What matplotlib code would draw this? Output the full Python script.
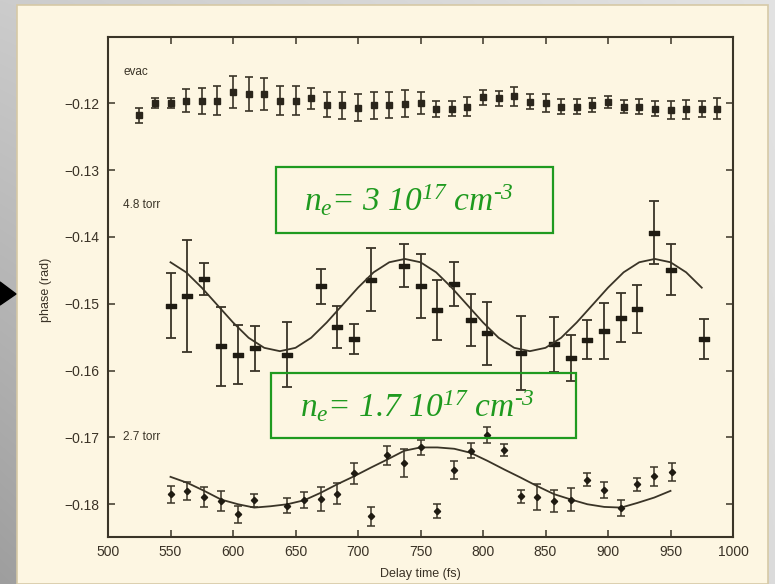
import numpy as np
import matplotlib
matplotlib.use("Agg")
import matplotlib.pyplot as plt
from matplotlib.patches import Rectangle, Polygon
from matplotlib.path import Path

plt.rcParams['mathtext.fontset'] = 'custom'
plt.rcParams['mathtext.it'] = 'Liberation Serif:italic'
plt.rcParams['mathtext.rm'] = 'Liberation Serif:italic'
plt.rcParams['mathtext.default'] = 'it'

# ---------------- data ----------------
evac_x = [525, 537.5, 550, 562.5, 575, 587.5, 600, 612.5, 625, 637.5, 650, 662.5, 675,
          687.5, 700, 712.5, 725, 737.5, 750, 762.5, 775, 787.5, 800, 812.5, 825, 837.5,
          850, 862.5, 875, 887.5, 900, 912.5, 925, 937.5, 950, 962.5, 975, 987.5]
evac_y = [-0.1218, -0.1200, -0.1200, -0.1196, -0.1197, -0.1196, -0.1183, -0.1186, -0.1186,
          -0.1196, -0.1196, -0.1193, -0.1202, -0.1203, -0.1207, -0.1203, -0.1203, -0.1201,
          -0.1200, -0.1208, -0.1208, -0.1205, -0.1191, -0.1193, -0.1190, -0.1198, -0.1200,
          -0.1205, -0.1205, -0.1203, -0.1198, -0.1205, -0.1205, -0.1208, -0.1210, -0.1209,
          -0.1208, -0.1208]
evac_err = [0.0011, 0.0007, 0.0007, 0.0017, 0.0019, 0.0022, 0.0024, 0.0025, 0.0024, 0.0021,
            0.0021, 0.0015, 0.0019, 0.0020, 0.0020, 0.0020, 0.0019, 0.0020, 0.0016, 0.0012,
            0.0011, 0.0014, 0.0011, 0.0011, 0.0014, 0.0011, 0.0013, 0.0011, 0.0011, 0.0010,
            0.0009, 0.0010, 0.0011, 0.0011, 0.0014, 0.0014, 0.0012, 0.0015]

torr48_x = [550, 563.5, 577, 590.5, 604, 617.5, 643.5, 670, 683.5, 697, 710.5, 737, 750,
            763.5, 777, 790, 803.5, 830, 857, 870, 883.5, 897, 910, 923.5, 937, 950.5, 977]
torr48_y = [-0.1503, -0.1488, -0.1463, -0.1564, -0.1576, -0.1567, -0.1576, -0.1474, -0.1535,
            -0.1553, -0.1464, -0.1443, -0.1474, -0.1509, -0.1470, -0.1524, -0.1544, -0.1574,
            -0.1561, -0.1581, -0.1554, -0.1541, -0.1521, -0.1508, -0.1394, -0.1449, -0.1553]
torr48_err = [0.0049, 0.0084, 0.0024, 0.0059, 0.0044, 0.0034, 0.0048, 0.0026, 0.0031, 0.0022,
              0.0047, 0.0032, 0.0048, 0.0045, 0.0033, 0.0039, 0.0047, 0.0055, 0.0041, 0.0034,
              0.0029, 0.0042, 0.0037, 0.0036, 0.0047, 0.0038, 0.0030]

fit48_x = [550, 562.5, 575, 587.5, 600, 612.5, 625, 637.5, 650, 662.5, 675, 687.5, 700, 712.5,
           725, 737.5, 750, 762.5, 775, 787.5, 800, 812.5, 825, 837.5, 850, 862.5, 875, 887.5,
           900, 912.5, 925, 937.5, 950, 962.5, 975]
fit48_y = [-0.1438, -0.1453, -0.1476, -0.1502, -0.1528, -0.1551, -0.1566, -0.1571, -0.1566,
           -0.1551, -0.1528, -0.1502, -0.1476, -0.1453, -0.1438, -0.1433, -0.1438, -0.1453,
           -0.1476, -0.1502, -0.1528, -0.1551, -0.1566, -0.1571, -0.1566, -0.1551, -0.1528,
           -0.1502, -0.1476, -0.1453, -0.1438, -0.1433, -0.1438, -0.1453, -0.1476]

torr27_x = [550, 563.5, 577, 590.5, 604, 617, 643.5, 657, 670, 683.5, 697, 710.5, 723.5, 737,
            750, 763.5, 777, 790, 803.5, 817, 830, 843.5, 857, 870.5, 883.5, 897, 910.5, 923.5,
            937, 951]
torr27_y = [-0.1785, -0.1780, -0.1789, -0.1795, -0.1815, -0.1794, -0.1802, -0.1793, -0.1792,
            -0.1784, -0.1754, -0.1818, -0.1727, -0.1738, -0.1715, -0.1810, -0.1749, -0.1720,
            -0.1696, -0.1719, -0.1788, -0.1789, -0.1795, -0.1793, -0.1763, -0.1779, -0.1805,
            -0.1770, -0.1758, -0.1752]
torr27_err = [0.0013, 0.0014, 0.0015, 0.0015, 0.0013, 0.0010, 0.0011, 0.0012, 0.0018, 0.0016,
              0.0016, 0.0014, 0.0014, 0.0021, 0.0011, 0.0011, 0.0013, 0.0011, 0.0012, 0.0009,
              0.0010, 0.0019, 0.0016, 0.0017, 0.0010, 0.0012, 0.0012, 0.0010, 0.0014, 0.0013]

fit27_x = [550, 563.5, 577, 590.5, 604, 617, 630, 643.5, 657, 670, 683.5, 697, 710.5, 723.5,
           737, 750, 763.5, 777, 790, 803.5, 817, 830, 843.5, 857, 870.5, 883.5, 897, 910.5,
           923.5, 937, 950]
fit27_y = [-0.1759, -0.1768, -0.1780, -0.1793, -0.1800, -0.1805, -0.1803, -0.1800, -0.1794,
           -0.1783, -0.1770, -0.1758, -0.1745, -0.1733, -0.1720, -0.1715, -0.1715, -0.1717,
           -0.1723, -0.1735, -0.1748, -0.1760, -0.1773, -0.1785, -0.1793, -0.1800, -0.1804,
           -0.1805, -0.1798, -0.1790, -0.1780]

x_ticks = [500, 550, 600, 650, 700, 750, 800, 850, 900, 950, 1000]
y_ticks = [-0.18, -0.17, -0.16, -0.15, -0.14, -0.13, -0.12]
y_ticklabels = ['\u22120.18', '\u22120.17', '\u22120.16', '\u22120.15', '\u22120.14',
                '\u22120.13', '\u22120.12']
series_labels = ['evac', '4.8 torr', '2.7 torr']
series_label_pos = [(512, -0.1153), (512, -0.1353), (512, -0.1700)]
box_texts = [r"$n_e$= 3 10$^{17}$ cm$^{\text{-}3}$", r"$n_e$= 1.7 10$^{17}$ cm$^{\text{-}3}$"]

# ---------------- figure ----------------
W, H = 775, 584
fig = plt.figure(figsize=(W / 100, H / 100), dpi=100)

# grey gradient backdrop
bg = fig.add_axes([0, 0, 1, 1], zorder=-10)
yy, xx = np.mgrid[0:1:H * 1j, 0:1:W * 1j]
tl, tr, bl, br = 0.80, 0.89, 0.62, 0.86
g = (tl * (1 - xx) * (1 - yy) + tr * xx * (1 - yy) + bl * (1 - xx) * yy + br * xx * yy)
bg.imshow(np.dstack([g, g, g]), aspect='auto', extent=[0, 1, 0, 1], origin='upper')
bg.set_xlim(0, 1)
bg.set_ylim(0, 1)
bg.axis('off')

# beige panel
fig.patches.append(Rectangle((17 / W, 0), (768 - 17) / W, (H - 5) / H, transform=fig.transFigure,
                             facecolor='#fdf6e2', edgecolor='#d6c9a6', linewidth=1.2, zorder=-5))
# black arrow on the left
fig.patches.append(Polygon([(0 / W, 1 - 282 / H), (16 / W, 1 - 294 / H), (0 / W, 1 - 305 / H)],
                           closed=True, transform=fig.transFigure, facecolor='black',
                           edgecolor='black', zorder=5))

ink = '#3a3427'
ax = fig.add_axes([108 / W, 1 - 537 / H, 625 / W, 500 / H])
ax.set_facecolor('none')
ax.set_xlim(500, 1000)
ax.set_ylim(-0.1849, -0.1101)

bar_marker = Path([(-1, -0.45), (1, -0.45), (1, 0.45), (-1, 0.45), (-1, -0.45)],
                  [Path.MOVETO, Path.LINETO, Path.LINETO, Path.LINETO, Path.CLOSEPOLY])

ax.errorbar(evac_x, evac_y, yerr=evac_err, fmt='s', ms=4, color=ink, mfc='#2a251b',
            mec='#2a251b', ecolor=ink, elinewidth=1.2, capsize=3, capthick=1.2)
ax.errorbar(torr48_x, torr48_y, yerr=torr48_err, fmt='none', ecolor=ink, elinewidth=1.3,
            capsize=3.5, capthick=1.3)
ax.plot(torr48_x, torr48_y, linestyle='none', marker=bar_marker, ms=7, color='#1f1b12')
ax.plot(fit48_x, fit48_y, color=ink, lw=1.3)

ax.errorbar(torr27_x, torr27_y, yerr=torr27_err, fmt='D', ms=3.2, color=ink, mfc='#1f1b12',
            mec='#1f1b12', ecolor=ink, elinewidth=1.1, capsize=3, capthick=1.1)
ax.plot(fit27_x, fit27_y, color=ink, lw=1.3)

for lab, (lx, ly) in zip(series_labels, series_label_pos):
    ax.text(lx, ly, lab, fontsize=8.5, color=ink, ha='left', va='center',
            family='Liberation Sans')

ax.set_xticks(x_ticks)
ax.set_yticks(y_ticks)
ax.set_yticklabels(y_ticklabels)
ax.tick_params(direction='in', length=5, width=1.1, top=True, right=True, colors=ink,
               labelsize=10, pad=6)
for lab in ax.get_xticklabels() + ax.get_yticklabels():
    lab.set_family('Liberation Sans')
    lab.set_color('#3a3226')
for s in ax.spines.values():
    s.set_color(ink)
    s.set_linewidth(1.5)

ax.set_xlabel('Delay time (fs)', fontsize=9, color='#3a3226', family='Liberation Sans')
ax.set_ylabel('phase (rad)', fontsize=9, color='#3a3226', family='Liberation Sans')
ax.xaxis.set_label_coords((420 - 108) / 625, (537 - 568) / 500)
ax.yaxis.set_label_coords((52 - 108) / 625, (537 - 290) / 500)

# green annotation boxes (outline only, data shows through)
green = '#1f9a1f'
boxes = [(276, 167, 553, 233), (271, 373, 576, 438)]
text_centers = [(409, 201), (417, 407)]
for (x0, y0, x1, y1), txt, (cx, cy) in zip(boxes, box_texts, text_centers):
    fig.patches.append(Rectangle((x0 / W, 1 - y1 / H), (x1 - x0) / W, (y1 - y0) / H,
                                 transform=fig.transFigure, facecolor='none',
                                 edgecolor=green, linewidth=1.6, zorder=3))
    fig.text(cx / W, 1 - cy / H, txt, color=green, fontsize=24,
             family='Liberation Serif', style='italic', ha='center', va='center', zorder=4)

fig.savefig('out.png', dpi=100)
